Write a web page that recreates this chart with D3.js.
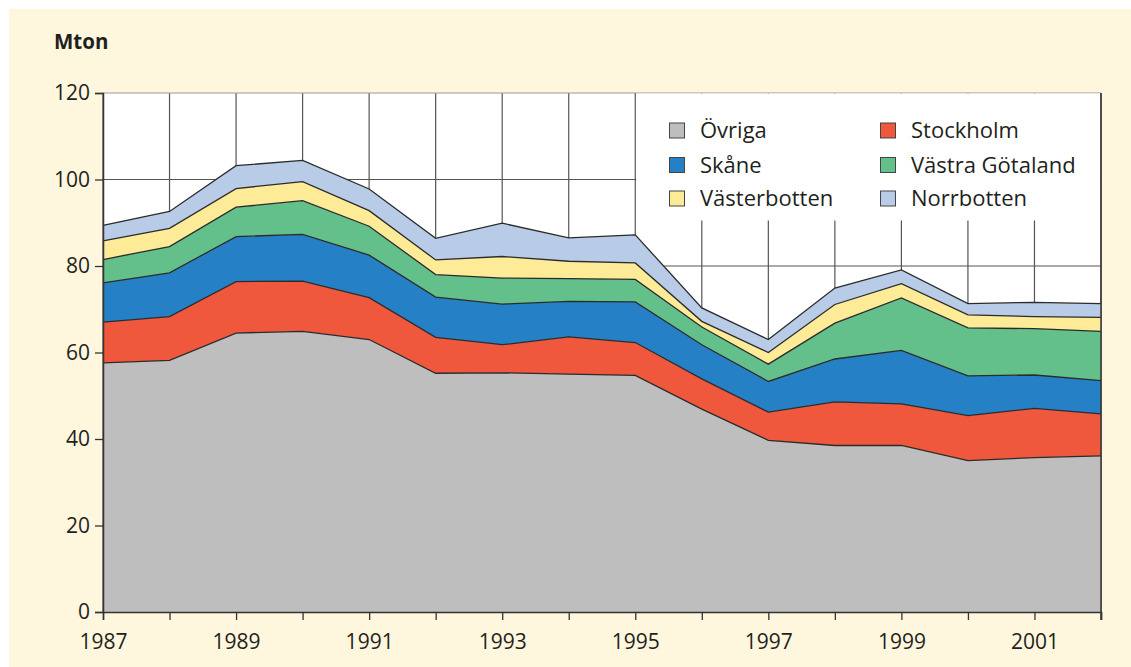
<!DOCTYPE html>
<html><head><meta charset="utf-8">
<script src="https://cdn.jsdelivr.net/npm/d3@7"></script>
<style>
html,body{margin:0;padding:0;background:#fff;}
svg{display:block;font-family:"Open Sans","Noto Sans",sans-serif;}
</style></head>
<body><svg id="c" width="1131" height="667"></svg>
<script>
const years = [1987,1988,1989,1990,1991,1992,1993,1994,1995,1996,1997,1998,1999,2000,2001,2002];
const ovriga      = [57.6,58.2,64.5,64.9,63.0,55.2,55.3,55.0,54.7,46.9,39.7,38.5,38.5,35.0,35.7,36.1];
const stockholm   = [9.4,10.1,11.9,11.6,9.7,8.3,6.5,8.6,7.6,7.0,6.5,10.1,9.6,10.4,11.4,9.7];
const skane       = [9.1,10.1,10.4,10.8,9.8,9.3,9.4,8.2,9.4,7.9,7.1,9.9,12.4,9.2,7.7,7.7];
const vastraGot   = [5.4,6.1,6.8,7.8,6.7,5.2,6.0,5.3,5.2,4.1,4.0,8.3,12.1,11.1,10.7,11.4];
const vasterbotten= [4.3,4.2,4.3,4.4,3.6,3.4,5.0,4.0,3.8,1.3,2.7,4.3,3.3,3.0,2.8,3.2];
const norrbotten  = [3.6,3.9,5.3,4.9,5.0,5.0,7.7,5.4,6.5,3.1,3.0,3.8,3.2,2.6,3.3,3.2];
const seriesNames = ["Övriga","Stockholm","Skåne","Västra Götaland","Västerbotten","Norrbotten"];
const seriesColors = ["#bebebe","#ef583c","#2680c6","#63c08a","#fdeb98","#b8cce8"];
const yTicks = [0,20,40,60,80,100,120];
const yGrid = [20,40,60,80,100];
const xLabelYears = [1987,1989,1991,1993,1995,1997,1999,2001];
const legendOrder = ["Övriga","Stockholm","Skåne","Västra Götaland","Västerbotten","Norrbotten"];

const seriesData = [ovriga,stockholm,skane,vastraGot,vasterbotten,norrbotten];
const table = years.map((y,i)=>{const o={year:y}; seriesNames.forEach((n,k)=>o[n]=seriesData[k][i]); return o;});

const svg = d3.select("#c");
const W=1131,H=667;
const m={l:103,r:30,t:93,b:55};
const iw=1101-m.l, ih=612-m.t;

svg.append("rect").attr("x",9).attr("y",9).attr("width",W-9).attr("height",H-9).attr("fill","#fef7de");

const x = d3.scaleLinear().domain([1987,2002]).range([m.l,1101]);
const y = d3.scaleLinear().domain([0,120]).range([612,93]);
const color = d3.scaleOrdinal().domain(seriesNames).range(seriesColors);

svg.append("rect").attr("x",m.l).attr("y",93).attr("width",iw).attr("height",ih).attr("fill","#fff");

const g = svg.append("g");
g.selectAll("line.v").data(years).join("line")
  .attr("x1",d=>x(d)).attr("x2",d=>x(d)).attr("y1",y(120)).attr("y2",y(0))
  .attr("stroke","#555").attr("stroke-width",1.2);
g.selectAll("line.h").data(yGrid).join("line")
  .attr("x1",x(1987)).attr("x2",x(2002)).attr("y1",d=>y(d)).attr("y2",d=>y(d))
  .attr("stroke","#555").attr("stroke-width",1.2);
g.append("line").attr("x1",x(1987)).attr("x2",x(2002)).attr("y1",y(120)).attr("y2",y(120))
  .attr("stroke","#999").attr("stroke-width",1);

svg.append("rect").attr("x",x(1995)+1).attr("y",y(120)+0.5).attr("width",x(2002)-x(1995)-2).attr("height",127).attr("fill","#fff");

const stack = d3.stack().keys(seriesNames);
const layers = stack(table);
const area = d3.area().x(d=>x(d.data.year)).y0(d=>y(d[0])).y1(d=>y(d[1]));
const line = d3.line().x(d=>x(d.data.year)).y(d=>y(d[1]));
svg.append("g").selectAll("path").data(layers).join("path")
  .attr("d",area).attr("fill",d=>color(d.key));
svg.append("g").selectAll("path").data(layers).join("path")
  .attr("d",line).attr("fill","none").attr("stroke","#2b2b2b").attr("stroke-width",1.3);

const yAxis = d3.axisLeft(y).tickValues(yTicks).tickSize(8).tickPadding(5).tickFormat(d3.format("d"));
const ya = svg.append("g").attr("transform",`translate(${m.l},0)`).call(yAxis);
ya.select(".domain").attr("stroke","#333").attr("stroke-width",1.5);
ya.selectAll(".tick line").attr("stroke","#333").attr("stroke-width",1.3);
ya.selectAll("text").attr("font-size",21).attr("fill","#231f20").attr("font-family","'Open Sans',sans-serif");

const xAxis = d3.axisBottom(x).tickValues(years).tickSize(8).tickPadding(14)
  .tickFormat(d=>xLabelYears.includes(d)?String(d):"");
const xa = svg.append("g").attr("transform",`translate(0,612)`).call(xAxis);
xa.select(".domain").attr("stroke","#333").attr("stroke-width",1.5);
xa.selectAll(".tick line").attr("stroke","#333").attr("stroke-width",1.3);
xa.selectAll("text").attr("font-size",21).attr("fill","#231f20").attr("font-family","'Open Sans',sans-serif");

svg.append("line").attr("x1",x(2002)).attr("x2",x(2002)).attr("y1",y(120)).attr("y2",y(0)+8)
  .attr("stroke","#333").attr("stroke-width",1.5);

svg.append("text").attr("x",54).attr("y",49).text("Mton")
  .attr("font-size",20.5).attr("font-weight","bold").attr("fill","#231f20");

const lg = svg.append("g");
const colX=[669,880], rowY=[130.5,165,198.5];
legendOrder.forEach((n,i)=>{
  const cx = colX[i%2], cy=rowY[Math.floor(i/2)];
  lg.append("rect").attr("x",cx+0.5).attr("y",cy-7.5).attr("width",15).attr("height",15)
    .attr("fill",color(n)).attr("stroke","#444").attr("stroke-width",1);
  lg.append("text").attr("x",cx+31).attr("y",cy+7.5).text(n)
    .attr("font-size",22).attr("fill","#231f20");
});
</script></body></html>
